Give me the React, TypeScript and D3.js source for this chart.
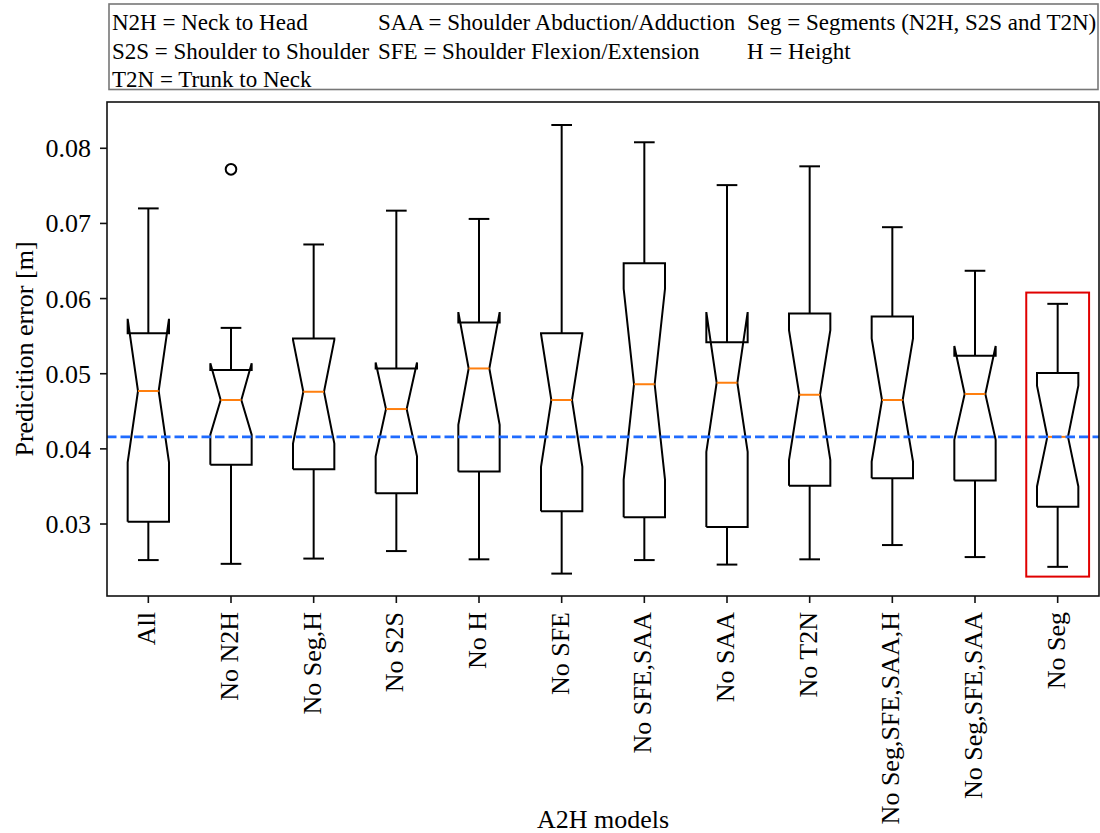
import React from "react";
import * as d3 from "d3";

const categories = ["All", "No N2H", "No Seg,H", "No S2S", "No H", "No SFE", "No SFE,SAA", "No SAA", "No T2N", "No Seg,SFE,SAA,H", "No Seg,SFE,SAA", "No Seg"];
const whiskerLow = [0.0252, 0.0247, 0.0254, 0.0264, 0.0253, 0.0234, 0.0252, 0.0246, 0.0253, 0.0272, 0.0256, 0.0243];
const q1 = [0.0303, 0.0379, 0.0373, 0.0341, 0.0370, 0.0317, 0.0309, 0.0296, 0.0351, 0.0361, 0.0358, 0.0323];
const median = [0.0477, 0.0465, 0.0476, 0.0453, 0.0507, 0.0465, 0.0486, 0.0488, 0.0472, 0.0465, 0.0473, 0.0416];
const q3 = [0.0554, 0.0505, 0.0547, 0.0507, 0.0568, 0.0554, 0.0647, 0.0542, 0.0580, 0.0576, 0.0524, 0.0501];
const whiskerHigh = [0.0720, 0.0561, 0.0672, 0.0717, 0.0706, 0.0831, 0.0808, 0.0751, 0.0776, 0.0695, 0.0637, 0.0593];
const notchLow = [0.0382, 0.0419, 0.0407, 0.0390, 0.0432, 0.0376, 0.0359, 0.0396, 0.0385, 0.0383, 0.0412, 0.0350];
const notchHigh = [0.0573, 0.0514, 0.0545, 0.0515, 0.0582, 0.0553, 0.0613, 0.0582, 0.0558, 0.0547, 0.0537, 0.0484];
const outlierIndex = [1];
const outlierValue = [0.0772];
const referenceValue = 0.0416;
const highlightX = [11.62, 12.38];
const highlightY = [0.023, 0.0608];
const yTicks = [0.03, 0.04, 0.05, 0.06, 0.07, 0.08];
const legendCol1 = ["N2H = Neck to Head", "S2S = Shoulder to Shoulder", "T2N = Trunk to Neck"];
const legendCol2 = ["SAA = Shoulder Abduction/Adduction", "SFE = Shoulder Flexion/Extension"];
const legendCol3 = ["Seg = Segments (N2H, S2S and T2N)", "H = Height"];

const W = 1100, H = 833;
const plot = { left: 107, right: 1099, top: 102, bottom: 596 };
const FONT = "'Liberation Serif', 'Times New Roman', serif";

export default function App() {
  const x = d3.scaleLinear().domain([0.5, categories.length + 0.5]).range([plot.left, plot.right]);
  const y = d3.scaleLinear().domain([0.02042, 0.08616]).range([plot.bottom, plot.top]);
  const boxW = x(1.5) - x(1);
  const capW = boxW / 2;

  const boxes = categories.map((c, i) => {
    const pos = i + 1;
    const cx = x(pos);
    const bl = cx - boxW / 2, br = cx + boxW / 2;
    const cl = cx - capW / 2, cr = cx + capW / 2;
    const pts: [number, number][] = [
      [bl, y(q1[i])], [br, y(q1[i])], [br, y(notchLow[i])], [cr, y(median[i])],
      [br, y(notchHigh[i])], [br, y(q3[i])], [bl, y(q3[i])], [bl, y(notchHigh[i])],
      [cl, y(median[i])], [bl, y(notchLow[i])], [bl, y(q1[i])],
    ];
    const line = d3.line();
    return (
      <g key={c}>
        <line x1={cx} x2={cx} y1={y(q1[i])} y2={y(whiskerLow[i])} stroke="#000" strokeWidth={2} />
        <line x1={cx} x2={cx} y1={y(q3[i])} y2={y(whiskerHigh[i])} stroke="#000" strokeWidth={2} />
        <line x1={cl} x2={cr} y1={y(whiskerLow[i])} y2={y(whiskerLow[i])} stroke="#000" strokeWidth={2} />
        <line x1={cl} x2={cr} y1={y(whiskerHigh[i])} y2={y(whiskerHigh[i])} stroke="#000" strokeWidth={2} />
        <path d={line(pts) || ""} fill="none" stroke="#000" strokeWidth={2} strokeLinejoin="miter" />
        <line x1={cl} x2={cr} y1={y(median[i])} y2={y(median[i])} stroke="#ff7f0e" strokeWidth={2} />
      </g>
    );
  });

  return (
    <svg width={W} height={H} style={{ position: "absolute", left: 0, top: 0, background: "#fff" }} fontFamily={FONT}>
      <rect x={0} y={0} width={W} height={H} fill="#fff" />
      {/* legend */}
      <rect x={109} y={4} width={989} height={85.5} fill="#fff" stroke="#777" strokeWidth={1.6} />
      {legendCol1.map((t, k) => (
        <text key={"a" + k} x={112} y={30 + k * 28.7} fontSize={23} fill="#000">{t}</text>
      ))}
      {legendCol2.map((t, k) => (
        <text key={"b" + k} x={378} y={30 + k * 28.7} fontSize={23} fill="#000">{t}</text>
      ))}
      {legendCol3.map((t, k) => (
        <text key={"c" + k} x={747} y={30 + k * 28.7} fontSize={23} fill="#000">{t}</text>
      ))}

      {boxes}
      {outlierIndex.map((ci, k) => (
        <circle key={"o" + k} cx={x(ci + 1)} cy={y(outlierValue[k])} r={5.3} fill="none" stroke="#000" strokeWidth={2} />
      ))}
      <line x1={plot.left} x2={plot.right} y1={y(referenceValue)} y2={y(referenceValue)} stroke="#1f6bff" strokeWidth={2.8} strokeDasharray="9.5 4" />
      <rect x={x(highlightX[0])} y={y(highlightY[1])} width={x(highlightX[1]) - x(highlightX[0])} height={y(highlightY[0]) - y(highlightY[1])} fill="none" stroke="#e00000" strokeWidth={2} />

      {/* axes frame */}
      <rect x={plot.left} y={plot.top} width={plot.right - plot.left} height={plot.bottom - plot.top} fill="none" stroke="#111" strokeWidth={1.6} />

      {/* y ticks */}
      {yTicks.map((t) => (
        <g key={"yt" + t}>
          <line x1={plot.left - 7} x2={plot.left} y1={y(t)} y2={y(t)} stroke="#111" strokeWidth={1.6} />
          <text x={plot.left - 16} y={y(t) + 9} fontSize={26} textAnchor="end" fill="#000">{d3.format(".2f")(t)}</text>
        </g>
      ))}
      {/* x ticks */}
      {categories.map((c, i) => (
        <g key={"xt" + i}>
          <line x1={x(i + 1)} x2={x(i + 1)} y1={plot.bottom} y2={plot.bottom + 7} stroke="#111" strokeWidth={1.6} />
          <text transform={`translate(${x(i + 1) + 7},${plot.bottom + 16}) rotate(-90)`} fontSize={26} textAnchor="end" fill="#000">{c}</text>
        </g>
      ))}
      <text transform={`translate(33,${(plot.top + plot.bottom) / 2}) rotate(-90)`} fontSize={26} textAnchor="middle" fill="#000">Predicition error [m]</text>
      <text x={(plot.left + plot.right) / 2} y={828} fontSize={26} textAnchor="middle" fill="#000">A2H models</text>
    </svg>
  );
}
